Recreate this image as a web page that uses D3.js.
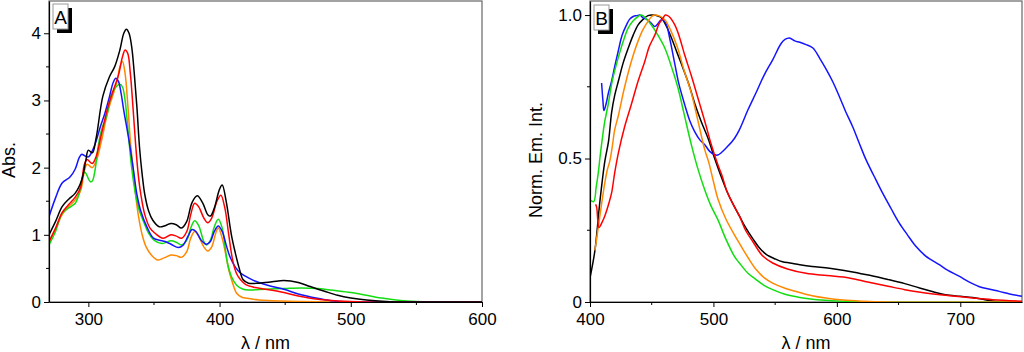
<!DOCTYPE html>
<html>
<head>
<meta charset="utf-8">
<script src="https://cdn.jsdelivr.net/npm/d3@7"></script>
<style>
  body { margin: 0; background: #fff; }
  svg text { font-family: "Liberation Sans", Arial, sans-serif; fill: #000; }
</style>
</head>
<body>
<svg id="chart" width="1024" height="352"></svg>
<script>
// ---- Panel A : absorption spectra [lambda, Abs] ----
var absBlack = [[270,1.0],[275,1.2],[280,1.42],[285,1.53],[290,1.62],[295,1.82],[298,2.1],[300,2.26],[303,2.22],[306,2.45],[311,3.06],[316,3.35],[320,3.5],[324,3.75],[327,4.0],[329,4.06],[331,4.0],[333,3.8],[335,3.4],[337,2.9],[339,2.3],[341,1.9],[343,1.6],[346,1.35],[349,1.22],[354,1.12],[359,1.14],[363,1.17],[367,1.15],[371,1.10],[375,1.2],[379,1.48],[383,1.58],[387,1.48],[391,1.30],[393,1.28],[396,1.40],[400,1.68],[402,1.74],[405,1.5],[409,1.0],[412,0.73],[415,0.5],[418,0.33],[422,0.28],[430,0.28],[440,0.30],[449,0.32],[460,0.29],[469,0.23],[480,0.16],[490,0.10],[500,0.06],[512,0.03],[530,0.005],[560,0],[600,0]];
var absRed = [[270,0.9],[275,1.1],[280,1.33],[285,1.45],[290,1.56],[294,1.7],[297,2.05],[299,2.12],[303,2.06],[306,2.17],[310,2.5],[315,2.91],[319,3.15],[323,3.38],[326,3.65],[328,3.75],[330,3.7],[332,3.4],[334,2.9],[336,2.35],[338,1.9],[340,1.6],[343,1.3],[347,1.1],[351,1.02],[357,0.95],[363,1.0],[367,0.98],[371,0.95],[375,1.05],[378,1.3],[381,1.47],[384,1.42],[388,1.25],[391,1.18],[394,1.25],[398,1.5],[401,1.59],[404,1.4],[407,1.0],[410,0.62],[413,0.42],[416,0.33],[420,0.26],[426,0.22],[435,0.19],[449,0.14],[460,0.09],[475,0.04],[490,0.015],[510,0],[600,0]];
var absOrange = [[270,0.88],[275,1.08],[280,1.3],[285,1.42],[290,1.52],[294,1.65],[297,1.95],[299,2.05],[303,2.0],[306,2.1],[310,2.4],[315,2.85],[319,3.1],[322,3.3],[324,3.5],[326,3.58],[328,3.4],[330,2.95],[332,2.4],[334,2.0],[336,1.6],[338,1.3],[341,1.0],[344,0.82],[348,0.7],[353,0.625],[358,0.66],[363,0.70],[367,0.69],[371,0.665],[375,0.75],[378,0.95],[381,1.05],[384,0.98],[388,0.82],[391,0.76],[394,0.82],[397,1.02],[399,1.1],[402,0.95],[405,0.68],[407,0.48],[410,0.28],[413,0.13],[417,0.07],[421,0.055],[430,0.03],[440,0.02],[460,0.008],[480,0],[600,0]];
var absGreen = [[270,0.85],[275,1.05],[280,1.32],[285,1.4],[290,1.47],[293,1.62],[296,1.9],[297.5,1.93],[299,1.88],[301.5,1.79],[303,1.8],[305,1.95],[307,2.25],[309,2.48],[311,2.62],[313,2.71],[315,2.85],[317,3.05],[321,3.2],[324,3.24],[326,3.2],[328,3.0],[330,2.6],[333,2.0],[336,1.6],[339,1.35],[342,1.2],[346,1.02],[350,0.92],[356,0.87],[363,0.91],[367,0.89],[371,0.85],[375,0.92],[378,1.1],[381,1.21],[384,1.14],[388,0.9],[390,0.85],[393,0.92],[396,1.12],[399,1.23],[402,1.1],[404,0.85],[406,0.58],[409,0.38],[413,0.25],[418,0.19],[423,0.18],[435,0.19],[449,0.2],[462,0.21],[475,0.2],[488,0.17],[500,0.14],[512,0.1],[525,0.055],[540,0.02],[555,0.005],[570,0],[600,0]];
var absBlue = [[270,1.27],[275,1.55],[280,1.77],[286,1.86],[290,1.98],[293,2.15],[295,2.2],[297,2.18],[300,2.16],[303,2.25],[306,2.4],[309,2.6],[312.6,2.81],[316,3.05],[319,3.27],[321,3.33],[323,3.28],[325,3.1],[327,2.85],[330.5,2.46],[334.4,1.96],[337,1.6],[340,1.35],[345,1.1],[349.6,0.95],[354,0.92],[358.5,0.9],[363,0.86],[368.6,0.81],[372,0.84],[376,0.98],[379,1.08],[382,1.05],[386,0.92],[390,0.86],[393,0.9],[396,1.05],[399,1.13],[402,1.05],[405,0.85],[408,0.67],[412,0.52],[416,0.43],[420,0.38],[425,0.33],[430,0.29],[440,0.23],[449,0.19],[460,0.12],[474.5,0.055],[485,0.02],[495,0.005],[510,0],[600,0]];

// ---- Panel B : normalised emission [lambda, I] ----
var emBlack = [[400,0.084],[404,0.18],[408,0.35],[412,0.49],[415,0.56],[417.5,0.66],[420,0.72],[423,0.77],[427,0.835],[431,0.885],[435,0.93],[439,0.966],[443,0.985],[447,0.998],[451,1.0],[455,0.997],[458,0.99],[462,0.96],[466,0.92],[470,0.875],[474,0.83],[480,0.76],[485,0.69],[490,0.63],[495.7,0.57],[501,0.50],[506,0.44],[511,0.385],[516,0.34],[521,0.30],[526,0.26],[532,0.22],[537,0.19],[543,0.165],[550,0.15],[556,0.14],[562,0.136],[570,0.13],[580,0.124],[594,0.118],[606,0.11],[618,0.10],[630,0.09],[642,0.078],[655,0.064],[667,0.049],[678,0.036],[688,0.025],[700,0.02],[710,0.016],[720,0.008],[729,0.002],[750,0.0]];
var emRed = [[404.5,0.34],[405.4,0.33],[407.3,0.26],[410,0.28],[412,0.30],[415,0.34],[417.5,0.38],[420,0.45],[423,0.52],[428,0.61],[433.6,0.69],[439,0.77],[444.5,0.84],[448,0.89],[452.5,0.93],[456,0.97],[459.3,0.99],[461,1.0],[464,0.995],[468.7,0.966],[472,0.93],[476.8,0.86],[482,0.79],[487.5,0.71],[493,0.63],[498.3,0.548],[503.6,0.478],[507,0.44],[511,0.385],[516,0.34],[521,0.30],[526,0.25],[532,0.21],[540,0.16],[548,0.136],[560,0.115],[575,0.10],[592,0.092],[610,0.084],[625,0.07],[642.5,0.054],[655,0.043],[669,0.033],[682,0.026],[696,0.02],[710,0.014],[726,0.008],[750,0.003]];
var emOrange = [[404,0.18],[406.7,0.26],[409,0.33],[412,0.415],[414,0.46],[416,0.49],[418,0.54],[420,0.6],[423,0.65],[427,0.73],[431,0.80],[435,0.86],[439,0.91],[443,0.95],[447,0.978],[450,0.995],[452.5,1.0],[456,0.997],[460.6,0.984],[465,0.95],[471,0.885],[476,0.81],[482,0.73],[487,0.64],[493,0.53],[496,0.49],[500,0.42],[503.6,0.36],[510,0.29],[517,0.234],[521,0.205],[528,0.155],[534.6,0.113],[541,0.085],[548,0.066],[558,0.048],[570,0.033],[580,0.022],[591,0.014],[605,0.007],[620,0.003],[640,0.0],[750,0]];
var emGreen = [[400,0.356],[403,0.35],[405,0.4],[406.7,0.45],[408,0.5],[410,0.57],[412,0.63],[414.8,0.69],[418,0.77],[422.8,0.85],[427,0.91],[431,0.955],[435,0.98],[439,0.995],[441.8,1.0],[445,0.99],[449.6,0.966],[455,0.93],[460.6,0.885],[466,0.82],[471.3,0.746],[476,0.66],[482,0.55],[487,0.47],[493,0.39],[498,0.335],[503.6,0.287],[510,0.22],[517,0.159],[521,0.136],[528,0.1],[534.6,0.078],[541,0.058],[548,0.043],[558,0.027],[570,0.016],[582,0.009],[594,0.005],[620,0.0],[750,0]];
var emBlue = [[409.4,0.763],[410.5,0.70],[411.3,0.667],[413,0.69],[415,0.73],[417.5,0.77],[420,0.82],[422.8,0.873],[426,0.93],[429.6,0.966],[432,0.985],[435,0.995],[438,0.998],[440.4,1.0],[443,0.99],[446,0.985],[449.6,0.972],[452.5,0.96],[455,0.97],[457.8,0.984],[460,0.98],[462,0.966],[465,0.91],[468.7,0.83],[472,0.76],[476.8,0.687],[481,0.63],[484.8,0.594],[489,0.565],[493,0.548],[497,0.525],[501,0.513],[503.5,0.512],[506.3,0.52],[511,0.54],[517,0.57],[521,0.60],[528,0.67],[534.6,0.73],[541,0.79],[548,0.844],[554.7,0.9],[558,0.915],[561.6,0.92],[566,0.91],[570,0.905],[575,0.897],[580.6,0.885],[586,0.85],[591.5,0.81],[597,0.765],[602,0.716],[607,0.665],[612.9,0.61],[618,0.555],[623.6,0.496],[630,0.44],[637,0.38],[644,0.325],[650.6,0.275],[657,0.235],[664,0.194],[672,0.16],[683,0.13],[690,0.11],[699,0.09],[707,0.07],[715,0.054],[723,0.045],[731.5,0.037],[740,0.028],[750,0.02]];

// tick values
var absXTicks = [300, 400, 500, 600], absXMinor = [350, 450, 550];
var absYTicks = [0, 1, 2, 3, 4],     absYMinor = [0.5, 1.5, 2.5, 3.5];
var emXTicks = [400, 500, 600, 700], emXMinor = [450, 550, 650];
var emYTicks = [0, 0.5, 1.0],        emYMinor = [0.25, 0.75];

var colors = {black: "#000000", red: "#ff0000", orange: "#ff8800", green: "#11dd11", blue: "#1414ff"};

var svg = d3.select("#chart");

function drawPanel(p) {
    var x = d3.scaleLinear().domain(p.xDomain).range([p.left, p.right]);
    var y = d3.scaleLinear().domain(p.yDomain).range([p.bottom, p.top]);
    var g = svg.append("g");

    // frame (top / right)
    g.append("rect")
        .attr("x", p.left).attr("y", p.top)
        .attr("width", p.right - p.left).attr("height", p.bottom - p.top)
        .attr("fill", "none").attr("stroke", "#666").attr("stroke-width", 1.2);

    var clipId = "clip" + p.name;
    g.append("clipPath").attr("id", clipId)
        .append("rect")
        .attr("x", p.left).attr("y", p.top)
        .attr("width", p.right - p.left).attr("height", p.bottom - p.top);

    var line = d3.line()
        .x(function(d) { return x(d[0]); })
        .y(function(d) { return y(d[1]); })
        .curve(d3.curveCatmullRom);

    var lines = g.append("g").attr("clip-path", "url(#" + clipId + ")");
    p.series.forEach(function(s) {
        lines.append("path")
            .datum(s.data)
            .attr("fill", "none")
            .attr("stroke", colors[s.color])
            .attr("stroke-width", 1.5)
            .attr("stroke-linejoin", "round")
            .attr("d", line);
    });

    // axes
    var xAxis = g.append("g")
        .attr("transform", "translate(0," + p.bottom + ")")
        .call(d3.axisBottom(x).tickValues(p.xTicks).tickSize(5).tickPadding(6).tickSizeOuter(0));
    xAxis.append("g").selectAll("line").data(p.xMinor).enter().append("line")
        .attr("x1", function(d) { return x(d); }).attr("x2", function(d) { return x(d); })
        .attr("y1", 0).attr("y2", 3).attr("stroke", "#000");

    var yAxis = g.append("g")
        .attr("transform", "translate(" + p.left + ",0)")
        .call(d3.axisLeft(y).tickValues(p.yTicks).tickFormat(p.yFormat).tickSize(5).tickPadding(3).tickSizeOuter(0));
    yAxis.append("g").selectAll("line").data(p.yMinor).enter().append("line")
        .attr("y1", function(d) { return y(d); }).attr("y2", function(d) { return y(d); })
        .attr("x1", 0).attr("x2", -3).attr("stroke", "#000");

    [xAxis, yAxis].forEach(function(a) {
        a.select(".domain").attr("stroke", "#000").attr("stroke-width", 1.2);
        a.selectAll("text").attr("font-size", 17).attr("font-family", "Liberation Sans, Arial, sans-serif");
    });

    // axis titles
    g.append("text")
        .attr("x", (p.left + p.right) / 2).attr("y", 349)
        .attr("text-anchor", "middle").attr("font-size", 18)
        .text("\u03bb / nm");
    g.append("text")
        .attr("transform", "translate(" + p.yTitleX + ",160) rotate(-90)")
        .attr("text-anchor", "middle").attr("font-size", 18)
        .text(p.yTitle);

    // panel label with shadow
    var lb = g.append("g").attr("transform", "translate(" + p.labelX + "," + p.labelY + ")");
    lb.append("rect").attr("x", 4).attr("y", 4).attr("width", 15).attr("height", 25).attr("fill", "#000");
    lb.append("rect").attr("x", 0).attr("y", 0).attr("width", 15).attr("height", 25)
        .attr("fill", "#fff").attr("stroke", "#999").attr("stroke-width", 1);
    lb.append("text").attr("x", 7.5).attr("y", 19.5).attr("text-anchor", "middle")
        .attr("font-size", 19).text(p.name);
}

drawPanel({
    name: "A", left: 49, right: 482, top: 1, bottom: 302,
    xDomain: [270, 600], yDomain: [0, 4.48],
    xTicks: absXTicks, xMinor: absXMinor, yTicks: absYTicks, yMinor: absYMinor,
    yFormat: d3.format("d"), yTitle: "Abs.", yTitleX: 15,
    labelX: 53, labelY: 4,
    series: [
        {color: "orange", data: absOrange},
        {color: "green", data: absGreen},
        {color: "blue", data: absBlue},
        {color: "red", data: absRed},
        {color: "black", data: absBlack}
    ]
});

drawPanel({
    name: "B", left: 590, right: 1022, top: 1, bottom: 302,
    xDomain: [400, 750], yDomain: [0, 1.049],
    xTicks: emXTicks, xMinor: emXMinor, yTicks: emYTicks, yMinor: emYMinor,
    yFormat: function(d) { return d === 0 ? "0" : d3.format(".1f")(d); },
    yTitle: "Norm. Em. Int.", yTitleX: 542,
    labelX: 594, labelY: 5,
    series: [
        {color: "black", data: emBlack},
        {color: "blue", data: emBlue},
        {color: "green", data: emGreen},
        {color: "orange", data: emOrange},
        {color: "red", data: emRed}
    ]
});
</script>
</body>
</html>
